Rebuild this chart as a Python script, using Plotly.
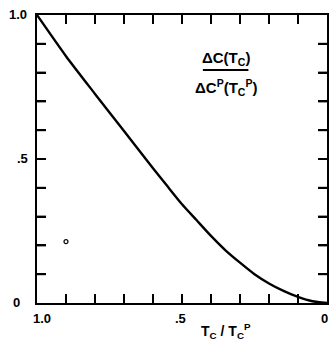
import plotly.graph_objects as go

# Reduced transition temperature and the normalized specific-heat jump
t_ratio = [1.0, 0.9, 0.8, 0.7, 0.6, 0.55, 0.5, 0.45, 0.4, 0.35, 0.3, 0.25, 0.2, 0.15, 0.1, 0.05, 0.0]
jump = [1.0, 0.857, 0.726, 0.597, 0.468, 0.405, 0.343, 0.288, 0.233, 0.183, 0.140, 0.100, 0.068, 0.042, 0.021, 0.006, 0.0]

# Single measured point
pt_t = [0.9]
pt_v = [0.213]

# Inner tick marks every 0.1 on all four sides
tick_vals = [0.1, 0.2, 0.3, 0.4, 0.5, 0.6, 0.7, 0.8, 0.9]

FONT = "Liberation Sans"
INK = "#000000"

W, H = 330, 341
M_L, M_R, M_T, M_B = 37, 1, 15, 38
TICK_PX = 9
# tick length in axis units (both axes span 1.0 across the plot area)
tick_dx = TICK_PX / (W - M_L - M_R)
tick_dy = TICK_PX / (H - M_T - M_B)

fig = go.Figure()

# tick segments along the four frame edges, separated by gaps
tx, ty = [], []
for v in tick_vals:
    tx += [v, v, None, v, v, None, 1.0, 1.0 - tick_dx, None, 0.0, tick_dx, None]
    ty += [0.0, tick_dy, None, 1.0, 1.0 - tick_dy, None, v, v, None, v, v, None]
fig.add_trace(go.Scatter(x=tx, y=ty, mode="lines", connectgaps=False,
                         line=dict(color=INK, width=2), hoverinfo="skip"))

fig.add_trace(go.Scatter(x=t_ratio, y=jump, mode="lines",
                         line=dict(color=INK, width=2.4, shape="spline", smoothing=0.6),
                         hoverinfo="skip"))
fig.add_trace(go.Scatter(x=pt_t, y=pt_v, mode="markers",
                         marker=dict(symbol="circle-open", size=4, color=INK, line=dict(width=1.2)),
                         hoverinfo="skip"))

axis_common = dict(showgrid=False, zeroline=False, showline=True, linecolor=INK, linewidth=2,
                   mirror="allticks", ticks="inside", ticklen=TICK_PX, tickwidth=2, tickcolor=INK,
                   tickmode="array", tickvals=tick_vals, showticklabels=False)

fig.update_layout(
    width=W, height=H,
    margin=dict(l=M_L, r=M_R, t=M_T, b=M_B),
    paper_bgcolor="white", plot_bgcolor="white",
    showlegend=False,
    font=dict(family=FONT, color=INK),
)
fig.update_xaxes(range=[1.0, 0.0], **axis_common)
fig.update_yaxes(range=[0.0, 1.0], **axis_common)

lab = dict(family=FONT, size=13, color=INK)

# Y-axis labels
for val, txt, dx in [(1.0, "<b>1.0</b>", -19), (0.5, "<b>.5</b>", -15), (0.0, "<b>0</b>", -21)]:
    fig.add_annotation(x=1.0, y=val, xref="x", yref="y", text=txt, showarrow=False,
                       xshift=dx, yshift=1, font=lab)

# X-axis labels
for val, txt, dx in [(1.0, "<b>1.0</b>", 5), (0.5, "<b>.5</b>", -2), (0.0, "<b>0</b>", -3)]:
    fig.add_annotation(x=val, y=0.0, xref="x", yref="y", text=txt, showarrow=False,
                       xshift=dx, yshift=-15, font=lab)

# Axis title
fig.add_annotation(x=0.5, y=0.0, xref="paper", yref="y",
                   text="<b>T<sub>C</sub> / T<sub>C</sub><sup>P</sup></b>",
                   showarrow=False, xshift=44, yshift=-28, font=dict(family=FONT, size=14, color=INK))

# Fraction label
fig.add_annotation(x=0.65, y=0.809, xref="paper", yref="paper",
                   text="<b>ΔC(T<sub>C</sub>)</b>", showarrow=False, yshift=23,
                   font=dict(family=FONT, size=15, color=INK))
fig.add_annotation(x=0.65, y=0.809, xref="paper", yref="paper",
                   text="<b>ΔC<sup>P</sup>(T<sub>C</sub><sup>P</sup>)</b>", showarrow=False, yshift=-5,
                   font=dict(family=FONT, size=15, color=INK))
fig.add_shape(type="line", xref="paper", yref="paper", x0=0.572, x1=0.729, y0=0.809, y1=0.809,
              line=dict(color=INK, width=2))

fig.write_html("out.html")
